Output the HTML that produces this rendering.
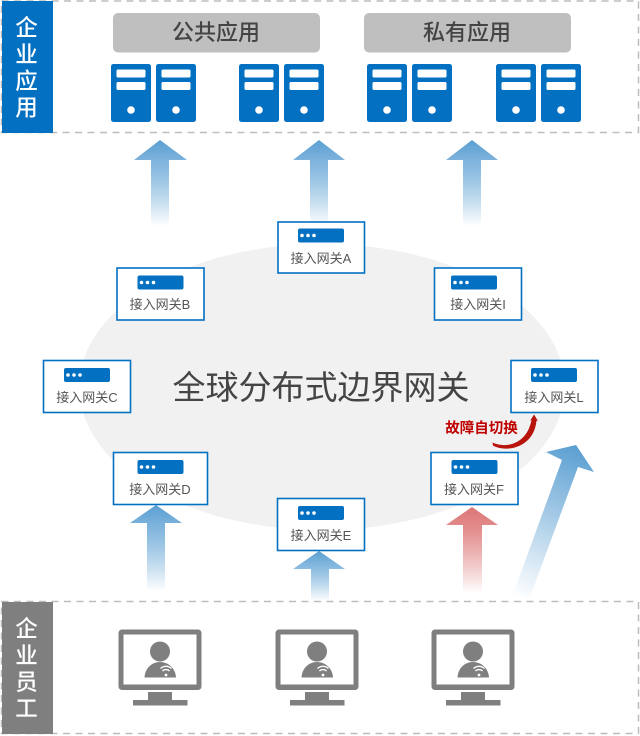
<!DOCTYPE html>
<html><head><meta charset="utf-8"><style>
html,body{margin:0;padding:0;background:#fff;width:640px;height:736px;overflow:hidden}
svg{display:block}
text{font-family:"Liberation Sans","Noto Sans CJK SC",sans-serif}
.n{font-size:13px;fill:#555;text-anchor:middle}
.t{font-size:22.5px;fill:#fff;text-anchor:middle;font-weight:500}
.h{font-size:22px;fill:#444;text-anchor:middle;font-weight:500}
</style></head><body>
<svg width="640" height="736" viewBox="0 0 640 736" xmlns="http://www.w3.org/2000/svg">
<defs>
<linearGradient id="b" x1="0" y1="0" x2="0" y2="1"><stop offset="0" stop-color="#5b9fd2"/><stop offset=".25" stop-color="#7fb4dd"/><stop offset="1" stop-color="#5b9fd2" stop-opacity="0"/></linearGradient>
<linearGradient id="r" x1="0" y1="0" x2="0" y2="1"><stop offset="0" stop-color="#dc7676"/><stop offset=".25" stop-color="#e38c8c"/><stop offset="1" stop-color="#dc7676" stop-opacity="0"/></linearGradient>
<linearGradient id="d" gradientUnits="userSpaceOnUse" x1="577" y1="447" x2="518" y2="597"><stop offset="0" stop-color="#5b9fd2"/><stop offset="1" stop-color="#5b9fd2" stop-opacity="0"/></linearGradient>
<g id="s"><rect width="40" height="58" rx="2.500" fill="#0470c2"/><rect x="5.500" y="5.500" width="29" height="8" rx="1.500" fill="#fff"/><rect x="5.500" y="18" width="29" height="8" rx="1.500" fill="#fff"/><circle cx="20" cy="46" r="3.800" fill="#fff"/></g>
<g id="g"><rect width="46" height="14" rx="2" fill="#0470c2"/><circle cx="4" cy="7" r="1.800" fill="#fff"/><circle cx="10" cy="7" r="1.800" fill="#fff"/><circle cx="16" cy="7" r="1.800" fill="#fff"/></g>
<g id="m">
<rect x="118.500" y="629.500" width="83" height="60.500" rx="3.500" fill="#7f7f7f"/>
<rect x="123.500" y="634.500" width="73" height="50" fill="#fff"/>
<rect x="148" y="692" width="24" height="9" fill="#7f7f7f"/>
<rect x="133" y="700" width="54.500" height="5.500" fill="#7f7f7f"/>
<circle cx="160" cy="651.500" r="10" fill="#7f7f7f"/>
<path d="M144.500 677.500C145 668 152 662 160 662S175.500 668 176 677.500Z" fill="#7f7f7f"/>
<path d="M160.500 668.500a8 8 0 0 1 11 0M162.500 671a5 5 0 0 1 7 0" fill="none" stroke="#fff" stroke-width="1.300"/>
<circle cx="166" cy="675" r="1.400" fill="#fff"/>
</g>
</defs>

<ellipse cx="322" cy="387" rx="243" ry="143" fill="#f1f1f1"/>

<!-- dashed frames -->
<rect x="1.500" y="1" width="637" height="131.500" fill="none" stroke="#bdbdbd" stroke-width="1.500" stroke-dasharray="7 5.500"/>
<rect x="1.500" y="601.500" width="637" height="132" fill="none" stroke="#bdbdbd" stroke-width="1.500" stroke-dasharray="7 5.500"/>
<rect x="2" y="1" width="51" height="132" fill="#0470c2"/>
<rect x="2" y="602" width="51" height="132" fill="#7f7f7f"/>
<text class="t" x="26.500" y="35.500">企</text><text class="t" x="26.500" y="62.500">业</text><text class="t" x="26.500" y="89">应</text><text class="t" x="26.500" y="115.500">用</text>
<text class="t" x="26.500" y="636.500">企</text><text class="t" x="26.500" y="663.500">业</text><text class="t" x="26.500" y="690">员</text><text class="t" x="26.500" y="716.500">工</text>

<!-- app headers -->
<rect x="113" y="13" width="207" height="39.500" rx="5" fill="#bfbfbf"/>
<rect x="364" y="13" width="207" height="39.500" rx="5" fill="#bfbfbf"/>
<text class="h" x="216" y="40">公共应用</text>
<text class="h" x="467" y="40">私有应用</text>

<!-- servers -->
<use href="#s" x="111" y="64"/><use href="#s" x="156" y="64"/>
<use href="#s" x="239" y="64"/><use href="#s" x="284" y="64"/>
<use href="#s" x="367" y="64"/><use href="#s" x="412" y="64"/>
<use href="#s" x="496" y="64"/><use href="#s" x="541" y="64"/>

<!-- arrows -->
<path d="M160 140L187 160H169V226H151V160H134Z" fill="url(#b)"/>
<path d="M319 140L345 160H328V226H310V160H293Z" fill="url(#b)"/>
<path d="M472 140L498 160H481V226H463V160H446Z" fill="url(#b)"/>
<path d="M156 505L182 523H165V591H147V523H130Z" fill="url(#b)"/>
<path d="M319 551L345 569H329V601H311V569H293Z" fill="url(#b)"/>
<path d="M472 507L498 525H482V593H463V525H446Z" fill="url(#r)"/>
<path d="M576 445L594 472L578 467L530 597H512L562 460L546 452Z" fill="url(#d)"/>

<!-- gateways -->
<g fill="#fff" stroke="#0470c2" stroke-width="1.600">
<rect x="278" y="222" width="86.500" height="51"/>
<rect x="117" y="268" width="87" height="52"/>
<rect x="43.500" y="360.500" width="87" height="52"/>
<rect x="113.500" y="452.500" width="94" height="52"/>
<rect x="277.500" y="498.500" width="87" height="52"/>
<rect x="431" y="452.500" width="87" height="52"/>
<rect x="434.500" y="268" width="87" height="52"/>
<rect x="511" y="360.500" width="87" height="52"/>
</g>
<use href="#g" x="298" y="228.500"/>
<use href="#g" x="137.500" y="275.500"/>
<use href="#g" x="64" y="368"/>
<use href="#g" x="137.500" y="460"/>
<use href="#g" x="298" y="506"/>
<use href="#g" x="451.500" y="460"/>
<use href="#g" x="451" y="275.500"/>
<use href="#g" x="531" y="368"/>
<text class="n" x="321" y="263">接入网关A</text>
<text class="n" x="160" y="309">接入网关B</text>
<text class="n" x="87" y="402">接入网关C</text>
<text class="n" x="160" y="494">接入网关D</text>
<text class="n" x="321" y="540">接入网关E</text>
<text class="n" x="474" y="494">接入网关F</text>
<text class="n" x="478" y="309">接入网关I</text>
<text class="n" x="554" y="402">接入网关L</text>

<text x="321" y="399" text-anchor="middle" fill="#444" style="font-size:33px">全球分布式边界网关</text>

<!-- failover -->
<text x="481.500" y="433" text-anchor="middle" style="font-size:14.500px;font-weight:700;fill:#c00000">故障自切换</text>
<path d="M492.500 442.500C506 449 527 444 531.500 420L530 421L534 414.500L538 421L536.500 420.500C534 448 506 453 493 445.500Z" fill="#b8140c"/>

<!-- monitors -->
<use href="#m"/>
<use href="#m" x="157"/>
<use href="#m" x="313"/>
</svg>
</body></html>
